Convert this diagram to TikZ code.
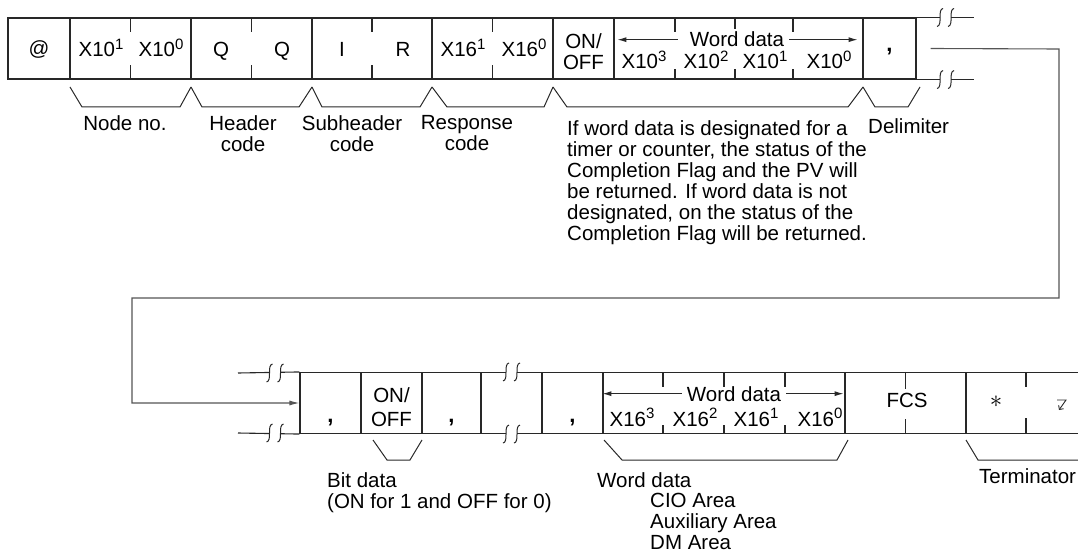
\documentclass[tikz,border=0pt]{standalone}
\usepackage{fontspec}
\setmainfont{Liberation Sans}
\usepackage{tikz}
\usetikzlibrary{positioning,arrows.meta,calc}
\usepackage{xcolor}
\definecolor{FrameGray}{RGB}{40,40,40}
\definecolor{WireGray}{RGB}{85,85,85}
\definecolor{TextBlack}{RGB}{0,0,0}
\newcommand{\sps}[1]{\raisebox{0.38em}{\fontsize{15}{15}\selectfont #1}}

\begin{document}
\begin{tikzpicture}[x=1pt, y=-1pt,
    cell/.style={rectangle, draw=FrameGray, line width=1.1pt, inner sep=0pt,
        minimum height=61pt},
    txt/.style={inner sep=0pt, font=\fontsize{20.5}{21}\selectfont, text=TextBlack},
    note/.style={txt, align=left, anchor=north west},
    sep/.style={txt, anchor=base, font=\fontsize{22}{22}\selectfont\bfseries},
    tick/.style={draw=FrameGray, line width=1.1pt},
    brace/.style={draw=FrameGray, line width=1pt},
    arr/.style={-{Latex[length=9pt,width=5pt]}, line width=1pt, FrameGray},
    wire/.style={-{Latex[length=10pt,width=5pt]}, line width=1.1pt, WireGray},
    breakmark/.pic={
        \fill[white] (-5.5,-2) rectangle (5.5,2);
        \draw[FrameGray, line width=1pt] (-2.5,-9) .. controls (-8.5,-8) and (-2.5,8) .. (-8.5,9);
        \draw[FrameGray, line width=1pt] (8.5,-9) .. controls (2.5,-8) and (8.5,8) .. (2.5,9);
    },
]
\useasboundingbox (0,0) rectangle (1078,556);

% response frame, first part
\node[cell, minimum width=62pt] (atc) at (39,48.5) {};
\node[cell, minimum width=121pt] (nodeno) at (130.5,48.5) {};
\node[cell, minimum width=121pt] (hdr) at (251.5,48.5) {};
\node[cell, minimum width=120pt] (sub) at (372,48.5) {};
\node[cell, minimum width=121pt] (rsp) at (492.5,48.5) {};
\node[cell, minimum width=61pt] (onoff) at (583.5,48.5) {};
\node[cell, minimum width=249pt] (word) at (738.5,48.5) {};
\node[cell, minimum width=53pt] (delim) at (889.5,48.5) {};
\draw[tick] (delim.north east) -- ++(57,0);
\draw[tick] (delim.south east) -- ++(57,0);
\pic at ($(delim.north east)+(29,0)$) {breakmark};
\pic at ($(delim.south east)+(29,0)$) {breakmark};

\draw[tick] (nodeno.north) -- ++(0,15);
\draw[tick] (nodeno.south) -- ++(0,-15);
\draw[tick] (hdr.north) -- ++(0,15);
\draw[tick] (hdr.south) -- ++(0,-15);
\draw[tick] (sub.north) -- ++(0,15);
\draw[tick] (sub.south) -- ++(0,-15);
\draw[tick] (rsp.north) -- ++(0,15);
\draw[tick] (rsp.south) -- ++(0,-15);
\draw[tick] (675,18) -- ++(0,14);
\draw[tick] (735,18) -- ++(0,11);
\draw[tick] (793,18) -- ++(0,14);
\draw[tick] (675,79) -- ++(0,-10);
\draw[tick] (735,79) -- ++(0,-10);
\draw[tick] (793,79) -- ++(0,-10);

\node[txt, anchor=base] (tat) at (39,56) {@};
\node[txt, anchor=base] (tn1) at (101,57) {X10\sps{1}};
\node[txt, anchor=base] (tn0) at (161,57) {X10\sps{0}};
\node[txt, anchor=base] (tq1) at (221,57) {Q};
\node[txt, anchor=base] (tq2) at (282,57) {Q};
\node[txt, anchor=base] (ti) at (342,57) {I};
\node[txt, anchor=base] (tr) at (403,57) {R};
\node[txt, anchor=base] (tr1) at (463,57) {X16\sps{1}};
\node[txt, anchor=base] (tr0) at (524,57) {X16\sps{0}};
\node[txt, align=center, anchor=north] (ton) at (583.5,33) {ON/\\OFF};
\node[txt, anchor=base] (twd) at (737,47) {Word data};
\node[txt, anchor=base] (tw3) at (644,69) {X10\sps{3}};
\node[txt, anchor=base] (tw2) at (706,69) {X10\sps{2}};
\node[txt, anchor=base] (tw1) at (765,69) {X10\sps{1}};
\node[txt, anchor=base] (tw0) at (829,69) {X10\sps{0}};
\node[sep] (tcm) at (889.5,52) {,};
\draw[arr, shorten >=4pt] ([xshift=-12pt]twd.west) -- (twd.west -| word.west);
\draw[arr, shorten >=6pt] ([xshift=5pt]twd.east) -- (twd.east -| word.east);

% braces under the first part
\draw[brace] (70,87) -- (82,107) -- (180,107) -- (191,87);
\draw[brace] (191,87) -- (202,107) -- (299,107) -- (312,87);
\draw[brace] (312,87) -- (322,107) -- (420,107) -- (432,87);
\draw[brace] (432,87) -- (447,107) -- (544,107) -- (553,87);
\draw[brace] (553,87) -- (567,107) -- (848,107) -- (863,87);
\draw[brace] (863,87) -- (875,107) -- (908,107) -- (920,87);

\node[txt, anchor=north] (lnode) at (125,115) {Node no.};
\node[txt, align=center, anchor=north] (lhdr) at (243,115) {Header\\code};
\node[txt, align=center, anchor=north] (lsub) at (352,115) {Subheader\\code};
\node[txt, align=center, anchor=north] (lrsp) at (467,115) {Response\\code};
\node[note] (lword) at (567,120) {If word data is designated for a\\
    timer or counter, the status of the\\Completion Flag and the PV will\\
    be returned. If word data is not\\designated, on the status of the\\
    Completion Flag will be returned.};
\node[note] (ldelim) at (868,118) {Delimiter};

% response frame, second part
\node[cell, minimum width=61pt] (c1) at (330.5,403) {};
\node[cell, minimum width=61pt] (bit) at (391.5,403) {};
\node[cell, minimum width=59pt] (c2) at (451.5,403) {};
\node[cell, minimum width=61pt] (gapc) at (511.5,403) {};
\node[cell, minimum width=61pt] (c3) at (572.5,403) {};
\node[cell, minimum width=242pt] (bword) at (724,403) {};
\node[cell, minimum width=121pt] (fcs) at (905.5,403) {};
\node[cell, minimum width=140pt] (term) at (1036,403) {};
\draw[tick] (238,373) -- (c1.north west);
\draw[tick] (238,433) -- (c1.south west);
\pic at (275,373) {breakmark};
\pic at (275,433) {breakmark};
\pic at (gapc.north) {breakmark};
\pic at (gapc.south) {breakmark};

\draw[tick] (663,373) -- ++(0,14);
\draw[tick] (724,373) -- ++(0,14);
\draw[tick] (785,373) -- ++(0,14);
\draw[tick] (663,433) -- ++(0,-8);
\draw[tick] (724,433) -- ++(0,-8);
\draw[tick] (785,433) -- ++(0,-8);
\draw[tick] (fcs.north) -- ++(0,17);
\draw[tick] (fcs.south) -- ++(0,-15);
\draw[tick] (1026,373) -- ++(0,14);
\draw[tick] (1026,433) -- ++(0,-15);

\node[sep] (bc1) at (330.5,422) {,};
\node[txt, align=center, anchor=north] (bon) at (391.5,387) {ON/\\[3pt]OFF};
\node[sep] (bc2) at (451.5,422) {,};
\node[sep] (bc3) at (572.5,422) {,};
\node[txt, anchor=base] (bwd) at (734,401) {Word data};
\node[txt, anchor=base] (bw3) at (632,426) {X16\sps{3}};
\node[txt, anchor=base] (bw2) at (695,426) {X16\sps{2}};
\node[txt, anchor=base] (bw1) at (756,426) {X16\sps{1}};
\node[txt, anchor=base] (bw0) at (820,426) {X16\sps{0}};
\node[txt, anchor=base] (bfcs) at (907,407) {FCS};
\node[txt, font=\fontsize{28}{28}\selectfont] (bast) at (996,402) {$\ast$};
\draw[arr] ([xshift=-5pt]bwd.west) -- (bwd.west -| bword.west);
\draw[arr, shorten >=2pt] ([xshift=5pt]bwd.east) -- (bwd.east -| bword.east);
\coordinate (crsym) at (1057,400);
\draw[FrameGray, line width=0.9pt, -{Straight Barb[length=3pt]}] (crsym) -- ++(9,0) -- ++(-7,10);

% braces under the second part
\draw[brace] (373,440) -- (387,460) -- (410,460) -- (422,440);
\draw[brace] (604,440) -- (622,460) -- (837,460) -- (848,440);
\draw[brace] (966,440) -- (978,460) -- (1078,460);

\node[note] (lbit) at (327,472) {Bit data\\(ON for 1 and OFF for 0)};
\node[note] (lbword) at (597,472) {Word data};
\node[note] (larea) at (650,493) {CIO Area\\Auxiliary Area\\DM Area};
\node[note] (lterm) at (979,468) {Terminator};

% continuation of the frame
\coordinate (retstart) at ([xshift=14pt]delim.east);
\draw[wire] (retstart) -- (1059,49) |- (132,298) |- (c1.west);
\end{tikzpicture}
\end{document}
